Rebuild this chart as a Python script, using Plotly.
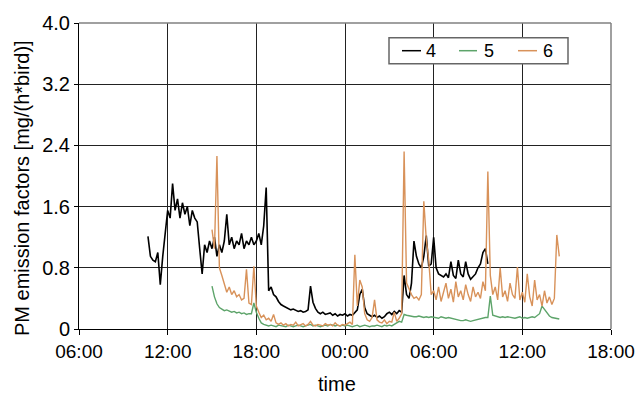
import pandas as pd
import plotly.graph_objects as go

# --- data: PM emission factors [mg/(h*bird)], 10-minute values ---
series_names = ["4", "5", "6"]
series_colors = ["#000000", "#5da46a", "#d8925a"]
series_widths = [1.6, 1.4, 1.4]
series_starts = ["2000-01-01 10:40", "2000-01-01 15:00", "2000-01-01 15:00"]
step = "10min"

pm_4 = [
    1.21, 0.95,
    0.90, 0.88, 1.00, 0.58, 0.95, 1.25,
    1.55, 1.45, 1.90, 1.55, 1.70, 1.45,
    1.65, 1.50, 1.60, 1.35, 1.55, 1.45,
    1.40, 1.05, 0.72, 1.10, 1.00, 1.15,
    1.05, 1.20, 0.95, 1.10, 1.00, 1.15,
    1.50, 1.10, 1.20, 1.05, 1.15, 1.10,
    1.25, 1.05, 1.15, 1.10, 1.20, 1.10,
    1.15, 1.25, 1.10, 1.35, 1.85, 0.50,
    0.55, 0.45, 0.42, 0.36, 0.32, 0.30,
    0.28, 0.27, 0.25, 0.26, 0.24, 0.23,
    0.24, 0.22, 0.23, 0.25, 0.56, 0.35,
    0.27, 0.22, 0.20, 0.22, 0.19, 0.20,
    0.21, 0.18, 0.20, 0.17, 0.19, 0.18,
    0.20, 0.17, 0.19, 0.18, 0.21, 0.25,
    0.45, 0.52, 0.28, 0.20, 0.18, 0.16,
    0.18, 0.15, 0.17, 0.14, 0.16, 0.20,
    0.22, 0.19, 0.23, 0.20, 0.24, 0.22,
    0.70, 0.45, 0.40, 0.60, 1.15, 0.95,
    0.85, 0.80, 0.95, 1.22, 0.82, 0.85,
    1.20, 0.80, 0.72, 0.70, 0.68, 0.72,
    0.67, 0.88, 0.70, 0.66, 0.90, 0.72,
    0.68, 0.88, 0.72, 0.65, 0.68, 0.72,
    0.80, 0.85, 1.00, 1.05, 0.85,
]

pm_5 = [
    0.56, 0.42, 0.33, 0.28, 0.26, 0.24,
    0.25, 0.23, 0.22, 0.23, 0.21, 0.22,
    0.20, 0.21, 0.19, 0.20, 0.20, 0.34,
    0.22, 0.14, 0.08, 0.06, 0.05, 0.04,
    0.05, 0.04, 0.03, 0.05, 0.04, 0.04,
    0.03, 0.05, 0.04, 0.03, 0.04, 0.05,
    0.04, 0.03, 0.04, 0.05, 0.06, 0.04,
    0.05, 0.04, 0.03, 0.04, 0.05, 0.04,
    0.06, 0.05, 0.04, 0.05, 0.04, 0.05,
    0.04, 0.05, 0.04, 0.03, 0.04, 0.05,
    0.03, 0.04, 0.05, 0.04, 0.03, 0.04,
    0.04, 0.05, 0.04, 0.03, 0.05, 0.04,
    0.05, 0.04, 0.06, 0.08, 0.10, 0.09,
    0.19, 0.18, 0.17, 0.17, 0.16, 0.16,
    0.17, 0.16, 0.15, 0.16, 0.15, 0.16,
    0.15, 0.15, 0.14, 0.16, 0.15, 0.14,
    0.15, 0.14, 0.14, 0.13, 0.12, 0.11,
    0.11, 0.12, 0.11, 0.10, 0.11, 0.12,
    0.13, 0.14, 0.14, 0.15, 0.15, 0.43,
    0.18, 0.17, 0.16, 0.15, 0.16, 0.15,
    0.16, 0.15, 0.15, 0.14, 0.15, 0.16,
    0.14, 0.15, 0.14, 0.15, 0.16, 0.15,
    0.17, 0.20, 0.30, 0.26, 0.22, 0.17,
    0.15, 0.14, 0.13, 0.13,
]

pm_6 = [
    1.30, 1.05, 2.26, 0.80, 0.70, 0.60,
    0.48, 0.55, 0.45, 0.50, 0.42, 0.45,
    0.38, 0.40, 0.78, 0.34, 0.32, 0.82,
    0.30, 0.22, 0.15, 0.18, 0.12, 0.14,
    0.10, 0.19, 0.08, 0.06, 0.08, 0.05,
    0.07, 0.04, 0.06, 0.05, 0.09, 0.04,
    0.05, 0.07, 0.04, 0.06, 0.10, 0.05,
    0.04, 0.06, 0.05, 0.04, 0.07, 0.05,
    0.06, 0.04, 0.08, 0.05, 0.04, 0.06,
    0.05, 0.07, 0.09, 0.06, 0.97, 0.30,
    0.64, 0.55, 0.20, 0.12, 0.10, 0.15,
    0.38, 0.12, 0.09, 0.08, 0.12, 0.07,
    0.10, 0.09, 0.22, 0.10, 0.14, 0.20,
    2.32, 0.60, 0.52, 0.45, 0.40, 0.42,
    0.38, 0.45, 1.67, 1.17, 0.90, 0.45,
    0.50, 0.38, 0.55, 0.36, 0.48, 0.60,
    0.40, 0.52, 0.35, 0.62, 0.42, 0.50,
    0.38, 0.58, 0.45, 0.36, 0.55, 0.42,
    0.48, 0.40, 0.62, 0.50, 2.06, 0.70,
    0.45, 0.55, 0.38, 0.80, 0.42, 0.50,
    0.36, 0.60, 0.45, 0.40, 0.81, 0.38,
    0.48, 0.35, 0.72, 0.42, 0.30, 0.64,
    0.38, 0.45, 0.30, 0.50, 0.34, 0.42,
    0.32, 0.40, 1.23, 0.95,
]

y_tick_vals = [0, 0.8, 1.6, 2.4, 3.2, 4.0]
y_tick_text = ["0", "0.8", "1.6", "2.4", "3.2", "4.0"]
x_range = ["2000-01-01 06:00", "2000-01-02 18:00"]

FONT = "Liberation Sans, Arial, sans-serif"
W, H = 635, 394
ML, MR, MT, MB = 79, 24, 23, 65
PW, PH = W - ML - MR, H - MT - MB


def px(x):
    return (x - ML) / PW


def py(y):
    return (H - MB - y) / PH


fig = go.Figure()
for name, color, width, start, vals in zip(series_names, series_colors, series_widths,
                                           series_starts, [pm_4, pm_5, pm_6]):
    t = pd.date_range(start, periods=len(vals), freq=step)
    fig.add_trace(go.Scatter(x=t, y=vals, mode="lines", name=name,
                             line=dict(color=color, width=width), showlegend=False))

fig.update_layout(
    width=W, height=H,
    margin=dict(l=ML, r=MR, t=MT, b=MB, autoexpand=False),
    paper_bgcolor="white", plot_bgcolor="white",
    font=dict(family=FONT, size=20, color="black"),
)
fig.update_xaxes(
    type="date", range=x_range, tick0=x_range[0], dtick=6 * 3600 * 1000,
    tickformat="%H:%M", showgrid=True, gridcolor="#222", gridwidth=1,
    showline=True, linecolor="black", linewidth=1,
    ticks="outside", ticklen=5, tickcolor="black",
    ticklabeloverflow="allow", automargin=False,
    tickfont=dict(family=FONT, size=19, color="black"),
)
fig.update_yaxes(
    range=[0, 4.0], tickvals=y_tick_vals, ticktext=y_tick_text,
    showgrid=True, gridcolor="#222", gridwidth=1, zeroline=False,
    showline=True, linecolor="black", linewidth=1,
    ticks="outside", ticklen=4, tickcolor="black", automargin=False,
    tickfont=dict(family=FONT, size=20, color="black"),
)

shapes = [
    # top and right frame
    dict(type="line", xref="paper", yref="paper", x0=0, x1=1, y0=1, y1=1,
         line=dict(color="#808080", width=1.5)),
    dict(type="line", xref="paper", yref="paper", x0=1, x1=1, y0=0, y1=1,
         line=dict(color="#808080", width=1.5)),
    # legend box
    dict(type="rect", xref="paper", yref="paper",
         x0=px(389), x1=px(568), y0=py(37.7), y1=py(63.7),
         line=dict(color="#666", width=1.5), fillcolor="white"),
]
annotations = []
legend_x = [(402, 421, 424), (459, 477, 482), (518, 537, 541)]
for (x0, x1, xt), name, color in zip(legend_x, series_names, series_colors):
    shapes.append(dict(type="line", xref="paper", yref="paper",
                       x0=px(x0), x1=px(x1), y0=py(50.7), y1=py(50.7),
                       line=dict(color=color, width=1.5)))
    annotations.append(dict(xref="paper", yref="paper", x=px(xt), y=py(51),
                            text=name, showarrow=False, xanchor="left", yanchor="middle",
                            font=dict(family=FONT, size=18, color="black")))

annotations.append(dict(xref="paper", yref="paper", x=px(337), y=py(384),
                        text="time", showarrow=False, xanchor="center", yanchor="middle",
                        font=dict(family=FONT, size=20, color="black")))
annotations.append(dict(xref="paper", yref="paper", x=px(22), y=py(188),
                        text="PM emission factors [mg/(h*bird)]", textangle=-90,
                        showarrow=False, xanchor="center", yanchor="middle",
                        font=dict(family=FONT, size=20, color="black")))

fig.update_layout(shapes=shapes, annotations=annotations)
fig.write_html("out.html")
